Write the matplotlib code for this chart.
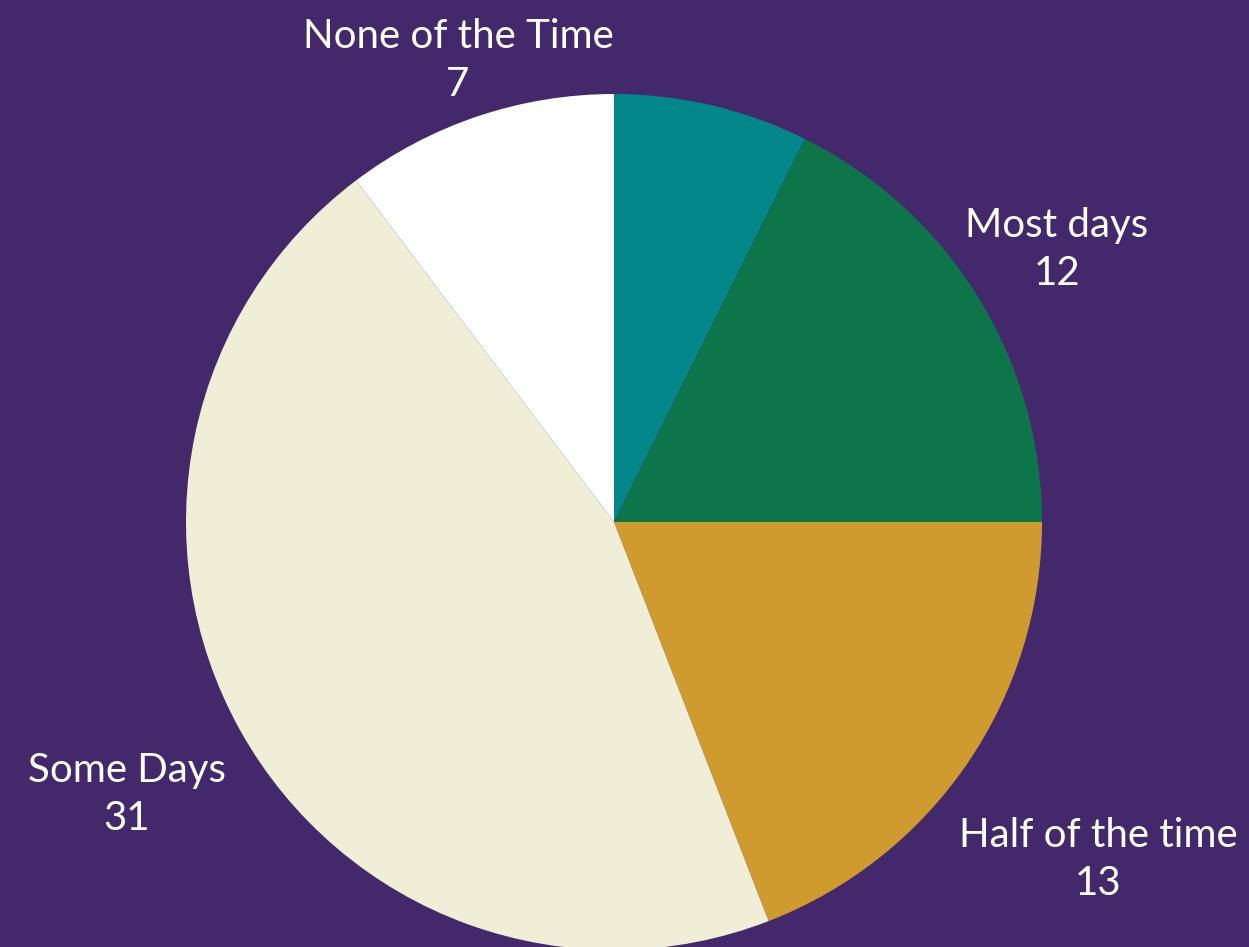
import numpy as np
import matplotlib
matplotlib.use("Agg")
import matplotlib.pyplot as plt

# survey answers, clockwise from the top
labels = [None, "Most days", "Half of the time", "Some Days", "None of the Time"]
counts = [5, 12, 13, 31, 7]
colors = ["#04878A", "#0E7449", "#CF9A2E", "#F0EED6", "#FFFFFF"]

# where each label sits (pixel coords, baseline of the name line)
label_xy = [None, (1057, 237), (1098, 847), (127, 782), (458, 48)]

W, H = 1249, 947
bg = "#43296B"

fig = plt.figure(figsize=(W / 100, H / 100), dpi=100, facecolor=bg)
ax = fig.add_axes([0, 0, 1, 1])
ax.set_facecolor(bg)
ax.set_xlim(0, W)
ax.set_ylim(0, H)
ax.set_aspect("equal")
ax.axis("off")

wedges, _ = ax.pie(counts, colors=colors, startangle=90, counterclock=False,
                   center=(614, H - 522), radius=428,
                   wedgeprops=dict(linewidth=0))
ax.set_xlim(0, W)
ax.set_ylim(0, H)

for lab, n, xy in zip(labels, counts, label_xy):
    if lab is None:
        continue
    x, y = xy
    ax.text(x, H - y, lab, color="white", fontsize=29, family="Lato",
            ha="center", va="baseline")
    ax.text(x, H - y - 48, str(n), color="white", fontsize=29, family="Lato",
            ha="center", va="baseline")

fig.savefig("out.png", dpi=100, facecolor=bg)
